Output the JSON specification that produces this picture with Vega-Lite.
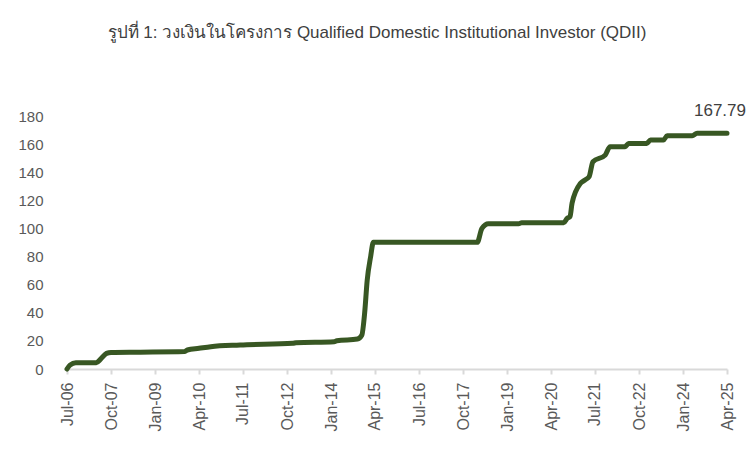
{
  "$schema": "https://vega.github.io/schema/vega-lite/v6.json",
  "autosize": "none",
  "width": 660,
  "height": 253,
  "padding": {"left": 67, "top": 116, "right": 25, "bottom": 83},
  "background": "white",
  "title": {
    "text": "รูปที่ 1: วงเงินในโครงการ Qualified Domestic Institutional Investor (QDII)",
    "font": "Liberation Sans",
    "fontSize": 17,
    "fontWeight": "normal",
    "color": "#404040",
    "anchor": "middle",
    "dx": -20,
    "offset": 60
  },
  "config": {
    "view": {"stroke": null},
    "font": "Liberation Sans"
  },
  "data": {
    "values": [
      {"date": "2006-07-01", "value": 0},
      {"date": "2006-08-01", "value": 2.8},
      {"date": "2006-10-01", "value": 4.5},
      {"date": "2007-05-01", "value": 4.5},
      {"date": "2007-06-15", "value": 7},
      {"date": "2007-08-15", "value": 11.1},
      {"date": "2007-10-01", "value": 11.8},
      {"date": "2008-08-01", "value": 12.0},
      {"date": "2009-11-01", "value": 12.4},
      {"date": "2009-12-01", "value": 13.5},
      {"date": "2010-04-01", "value": 14.7},
      {"date": "2010-08-01", "value": 15.9},
      {"date": "2011-06-01", "value": 17.1},
      {"date": "2012-12-01", "value": 18.3},
      {"date": "2013-01-01", "value": 18.7},
      {"date": "2014-02-01", "value": 19.4},
      {"date": "2014-03-01", "value": 20.1},
      {"date": "2014-10-01", "value": 21.3},
      {"date": "2014-11-15", "value": 24},
      {"date": "2014-12-15", "value": 40},
      {"date": "2015-01-10", "value": 63},
      {"date": "2015-02-15", "value": 80},
      {"date": "2015-03-15", "value": 90.1},
      {"date": "2018-02-25", "value": 90.1},
      {"date": "2018-04-15", "value": 100},
      {"date": "2018-06-20", "value": 103.4},
      {"date": "2019-05-01", "value": 103.4},
      {"date": "2019-06-01", "value": 104.0},
      {"date": "2020-08-10", "value": 104.0},
      {"date": "2020-09-15", "value": 107.2},
      {"date": "2020-10-15", "value": 108.4},
      {"date": "2020-11-05", "value": 117.9},
      {"date": "2021-02-01", "value": 132.1},
      {"date": "2021-03-20", "value": 134.5},
      {"date": "2021-05-01", "value": 136.8},
      {"date": "2021-06-10", "value": 147.5},
      {"date": "2021-10-15", "value": 152.2},
      {"date": "2021-12-05", "value": 158.2},
      {"date": "2022-05-10", "value": 158.2},
      {"date": "2022-06-15", "value": 160.5},
      {"date": "2022-12-20", "value": 160.5},
      {"date": "2023-01-28", "value": 162.9},
      {"date": "2023-06-12", "value": 162.9},
      {"date": "2023-07-20", "value": 166.0},
      {"date": "2024-04-05", "value": 166.0},
      {"date": "2024-05-25", "value": 167.79},
      {"date": "2025-04-01", "value": 167.79}
    ]
  },
  "encoding": {
    "x": {
      "field": "date",
      "type": "temporal",
      "title": null,
      "scale": {
        "type": "utc",
        "domain": [
          {"year": 2006, "month": 7, "date": 1, "utc": true},
          {"year": 2025, "month": 4, "date": 1, "utc": true}
        ]
      },
      "axis": {
        "values": [
          {"year": 2006, "month": 7, "date": 1, "utc": true},
          {"year": 2007, "month": 10, "date": 1, "utc": true},
          {"year": 2009, "month": 1, "date": 1, "utc": true},
          {"year": 2010, "month": 4, "date": 1, "utc": true},
          {"year": 2011, "month": 7, "date": 1, "utc": true},
          {"year": 2012, "month": 10, "date": 1, "utc": true},
          {"year": 2014, "month": 1, "date": 1, "utc": true},
          {"year": 2015, "month": 4, "date": 1, "utc": true},
          {"year": 2016, "month": 7, "date": 1, "utc": true},
          {"year": 2017, "month": 10, "date": 1, "utc": true},
          {"year": 2019, "month": 1, "date": 1, "utc": true},
          {"year": 2020, "month": 4, "date": 1, "utc": true},
          {"year": 2021, "month": 7, "date": 1, "utc": true},
          {"year": 2022, "month": 10, "date": 1, "utc": true},
          {"year": 2024, "month": 1, "date": 1, "utc": true},
          {"year": 2025, "month": 4, "date": 1, "utc": true}
        ],
        "labelExpr": "utcFormat(datum.value, '%b-%y')",
        "labelAngle": -90,
        "labelAlign": "right",
        "labelBaseline": "middle",
        "labelFontSize": 16,
        "labelColor": "#595959",
        "labelPadding": 8,
        "labelFont": "Liberation Sans",
        "labelOverlap": false,
        "labelFlush": false,
        "domainColor": "#d9d9d9",
        "domainWidth": 2,
        "tickColor": "#d9d9d9",
        "tickWidth": 2,
        "tickSize": 5,
        "grid": false
      }
    },
    "y": {
      "field": "value",
      "type": "quantitative",
      "title": null,
      "scale": {"domain": [0, 180], "nice": false},
      "axis": {
        "values": [0, 20, 40, 60, 80, 100, 120, 140, 160, 180],
        "domain": false,
        "ticks": false,
        "grid": false,
        "labelFontSize": 15,
        "labelColor": "#595959",
        "labelPadding": 24,
        "labelFont": "Liberation Sans"
      }
    }
  },
  "layer": [
    {
      "mark": {
        "type": "line",
        "interpolate": "monotone",
        "color": "#385723",
        "strokeWidth": 5,
        "strokeCap": "round",
        "strokeJoin": "round"
      }
    },
    {
      "transform": [{"filter": "utcyear(datum.date) == 2025"}],
      "mark": {
        "type": "text",
        "fontSize": 17,
        "color": "#404040",
        "align": "center",
        "baseline": "middle",
        "dx": -7,
        "dy": -22,
        "font": "Liberation Sans"
      },
      "encoding": {
        "text": {"field": "value", "type": "quantitative", "format": ".2f"}
      }
    }
  ]
}
